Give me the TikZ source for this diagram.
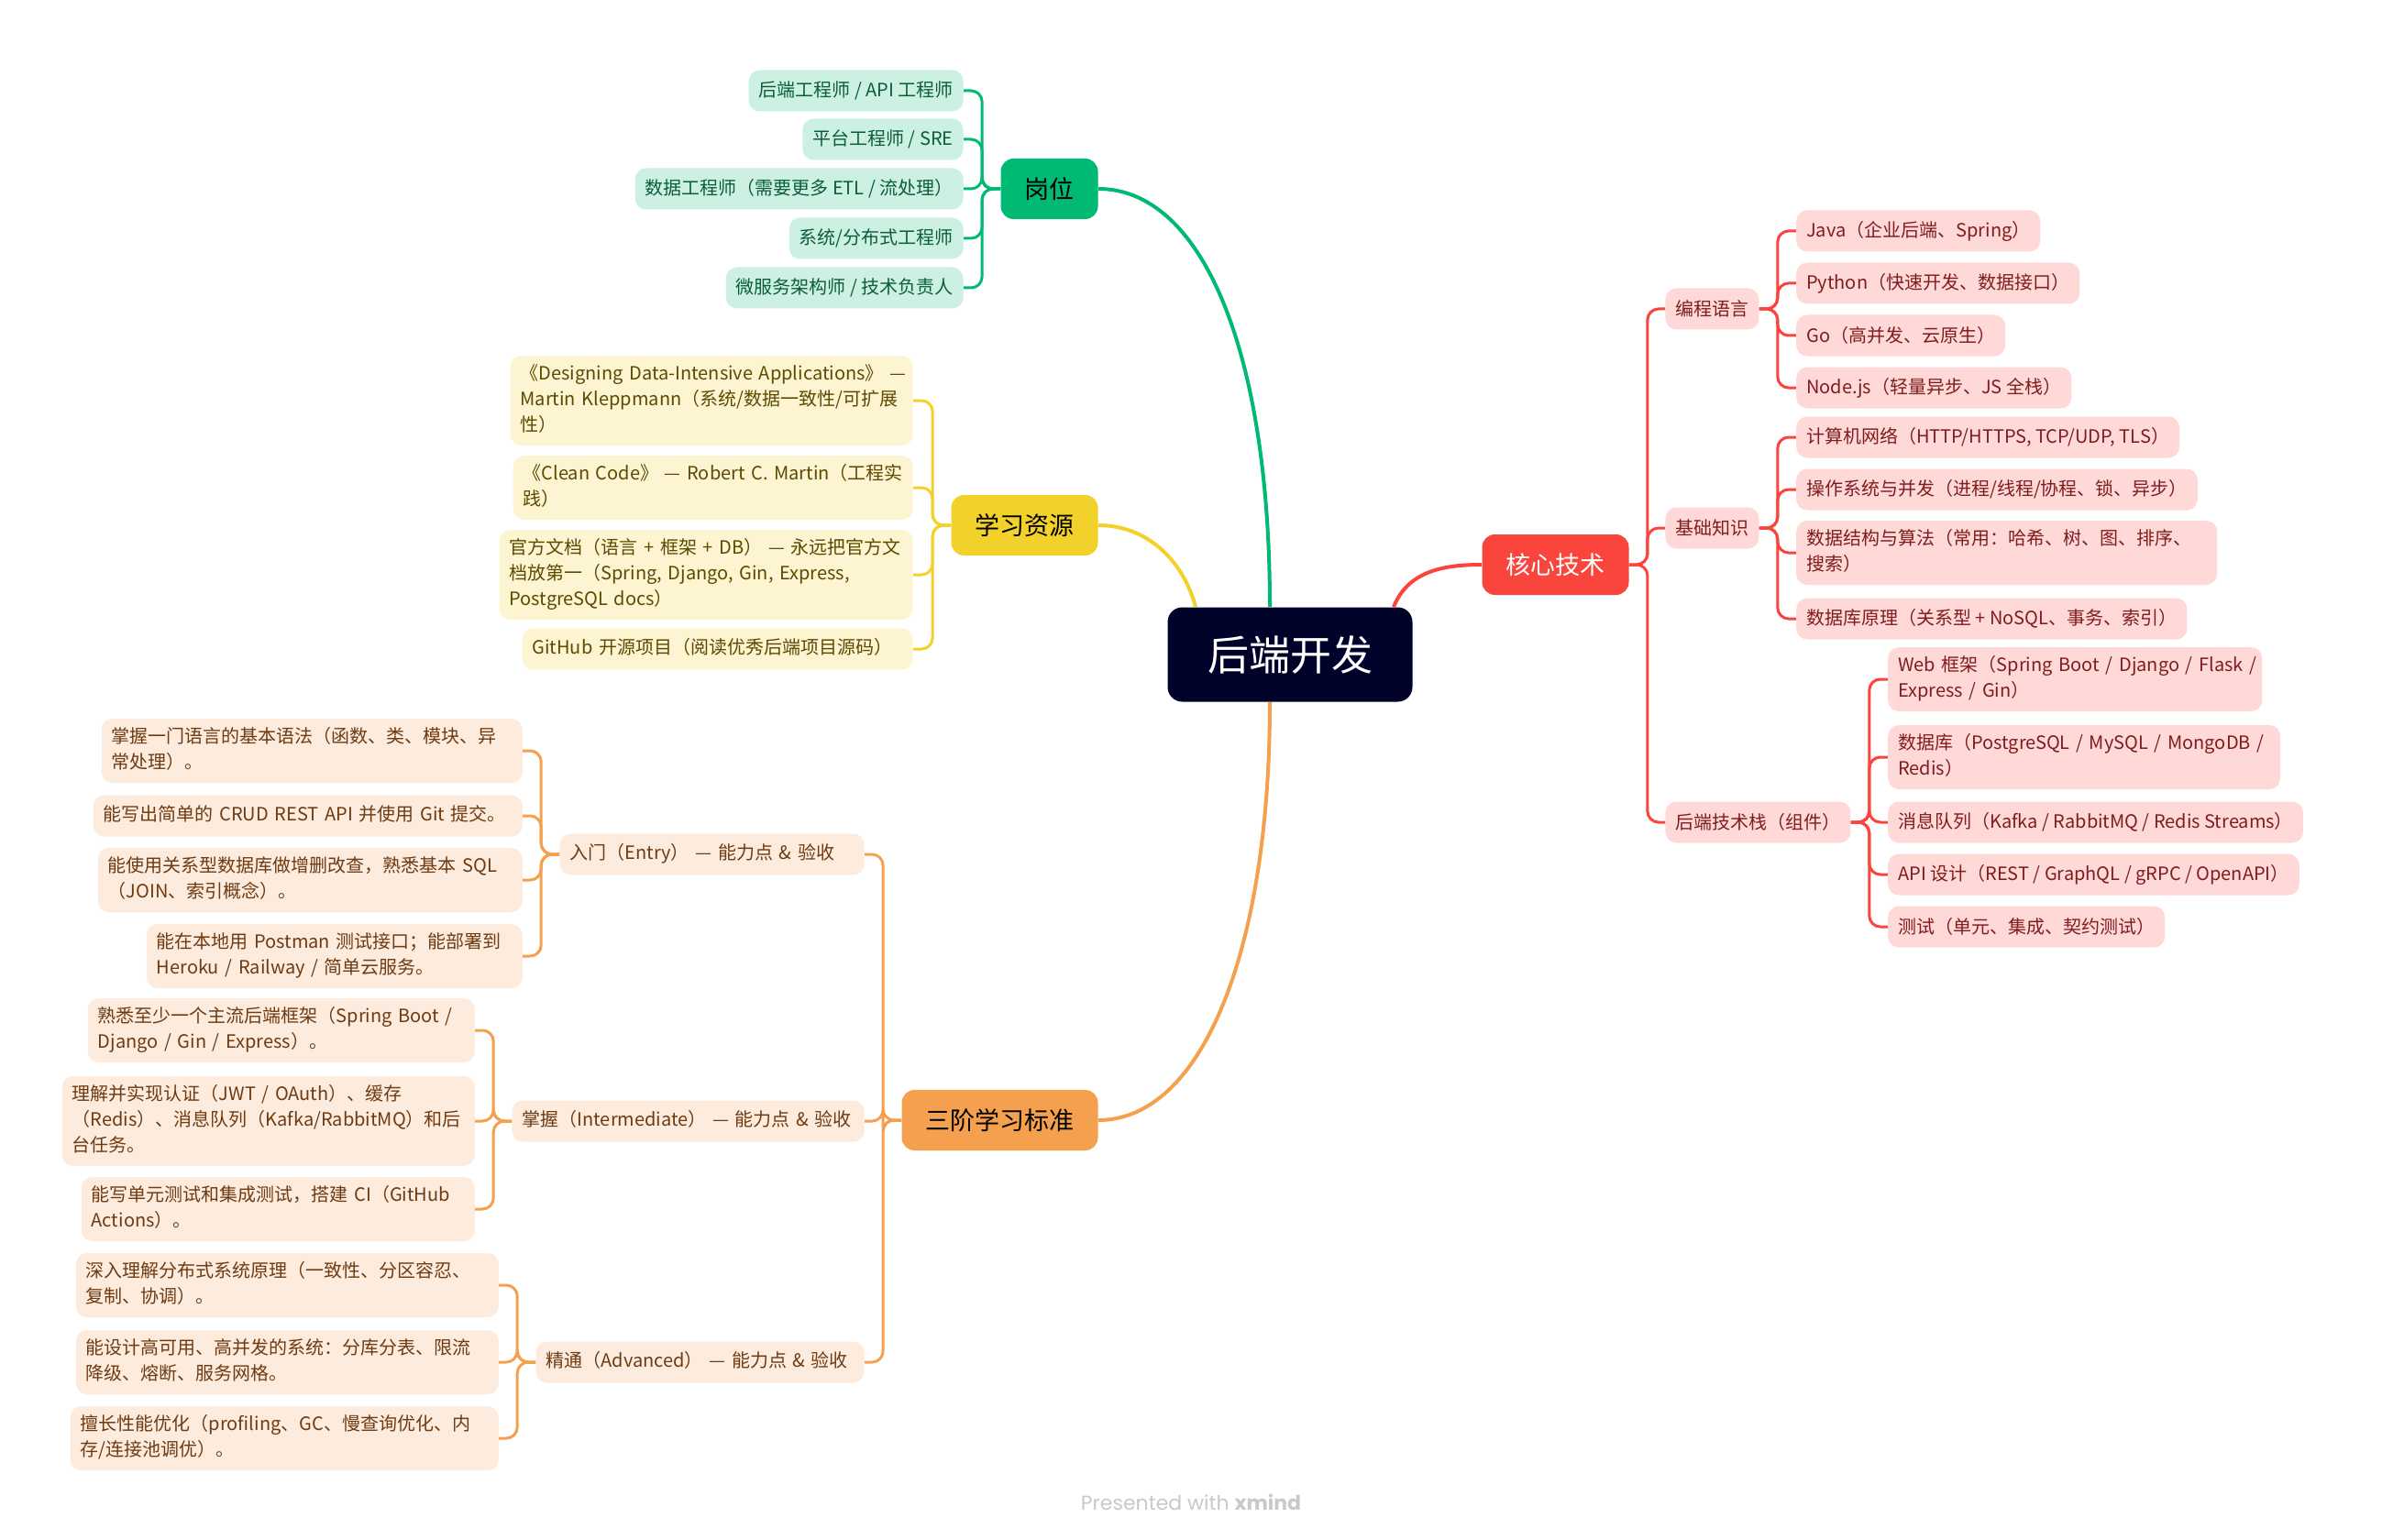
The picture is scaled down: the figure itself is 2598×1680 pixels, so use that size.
\documentclass[tikz,border=0pt]{standalone}
\usepackage{fontspec}
\setmainfont{Noto Sans CJK SC}
\newfontfamily\footfont{Poppins}
\usetikzlibrary{calc}
\definecolor{cnavy}{HTML}{000229}
\definecolor{gmain}{HTML}{00B973}
\definecolor{glight}{HTML}{CCF1E3}
\definecolor{gtext}{HTML}{0B5D3E}
\definecolor{ymain}{HTML}{F2D12A}
\definecolor{ylight}{HTML}{FDF5D2}
\definecolor{ytext}{HTML}{5C4A00}
\definecolor{rmain}{HTML}{FA453C}
\definecolor{rlight}{HTML}{FFD9D8}
\definecolor{rtext}{HTML}{7F1D1D}
\definecolor{omain}{HTML}{F5A04F}
\definecolor{olight}{HTML}{FDEBDD}
\definecolor{otext}{HTML}{6E3B12}
\definecolor{footgray}{HTML}{C9C9C9}
\newcommand\ml[1]{\noindent\begin{tabular}{@{}l@{}}#1\end{tabular}}
\tikzset{
  leaf/.style={rounded corners=6pt, inner xsep=5.5pt, inner ysep=3.5pt, minimum height=22.5pt, font=\fontsize{10}{14}\selectfont},
  gleaf/.style={leaf, fill=glight, text=gtext},
  yleaf/.style={leaf, fill=ylight, text=ytext},
  rleaf/.style={leaf, fill=rlight, text=rtext},
  oleaf/.style={leaf, fill=olight, text=otext},
  mainbox/.style={rounded corners=7pt, minimum height=33pt, inner xsep=13pt, font=\fontsize{13.5}{16}\selectfont},
  rootbox/.style={rounded corners=8pt, fill=cnavy, text=white, minimum width=133.5pt, minimum height=51.5pt, font=\fontsize{22.5}{26}\selectfont},
  brg/.style={draw=gmain, line width=1.5pt, rounded corners=6pt},
  bry/.style={draw=ymain, line width=1.5pt, rounded corners=6pt},
  brr/.style={draw=rmain, line width=1.5pt, rounded corners=6pt},
  bro/.style={draw=omain, line width=1.5pt, rounded corners=6pt},
  curve/.style={line width=2pt},
}
\begin{document}
\begin{tikzpicture}[x=0.5pt,y=-0.5pt]
\fill[white] (0,0) rectangle (2598,1680);
\path[use as bounding box] (0,0) rectangle (2598,1680);

% root and main branches
\node[rootbox] (root) at (1407,714) {后端开发};
\node[mainbox, fill=gmain, text=black] (gw) at (1144.5,206) {岗位};
\node[mainbox, fill=ymain, text=black] (xx) at (1117.5,573) {学习资源};
\node[mainbox, fill=rmain, text=white] (hx) at (1696.5,616) {核心技术};
\node[mainbox, fill=omain, text=black] (sj) at (1090.5,1222) {三阶学习标准};

\draw[curve, gmain] ($(root.north)+(-22,0)$) .. controls (1385,380) and (1310,206) .. (gw.east);
\draw[curve, ymain] ($(root.north)+(-103,0)$) .. controls (1290,610) and (1250,573) .. (xx.east);
\draw[curve, rmain] ($(root.north)+(113,0)$) .. controls (1535,625) and (1570,616) .. (hx.west);
\draw[curve, omain] ($(root.south)+(-22,0)$) .. controls (1385,1040) and (1310,1222) .. (sj.east);

% 岗位
\node[gleaf, anchor=east] (g1) at (1051,99) {后端工程师 / API 工程师};
\node[gleaf, anchor=east] (g2) at (1051,152) {平台工程师 / SRE};
\node[gleaf, anchor=east] (g3) at (1051,206) {数据工程师（需要更多 ETL / 流处理）};
\node[gleaf, anchor=east] (g4) at (1051,260) {系统/分布式工程师};
\node[gleaf, anchor=east] (g5) at (1051,314) {微服务架构师 / 技术负责人};
\foreach \c in {g1,g2,g3,g4,g5} \draw[brg] (gw.west) -- ++(-20,0) |- (\c.east);

% 学习资源
\node[yleaf, anchor=east, text width=208.5pt] (y1) at (996,437) {\ml{《Designing Data-Intensive Applications》 —\\Martin Kleppmann（系统/数据一致性/可扩展\\性）}};
\node[yleaf, anchor=east, text width=207pt] (y2) at (996,532) {\ml{《Clean Code》 — Robert C. Martin（工程实\\践）}};
\node[yleaf, anchor=east, text width=214.5pt] (y3) at (996,627) {\ml{官方文档（语言 + 框架 + DB） — 永远把官方文\\档放第一（Spring, Django, Gin, Express,\\PostgreSQL docs）}};
\node[yleaf, anchor=east, text width=202pt] (y4) at (996,708) {\ml{GitHub 开源项目（阅读优秀后端项目源码）}};
\foreach \c in {y1,y2,y3,y4} \draw[bry] (xx.west) -- ++(-20,0) |- (\c.east);

% 核心技术
\node[rleaf, anchor=west] (k1) at (1816,337) {编程语言};
\node[rleaf, anchor=west] (k2) at (1816,576) {基础知识};
\node[rleaf, anchor=west] (k3) at (1816,897) {后端技术栈（组件）};
\foreach \c in {k1,k2,k3} \draw[brr] (hx.east) -- ++(20,0) |- (\c.west);

\coordinate (k1x) at ($(k1.east)+(40,0)$);
\node[rleaf, anchor=west] (p1) at (k1x |- 0,252) {Java（企业后端、Spring）};
\node[rleaf, anchor=west] (p2) at (k1x |- 0,309) {Python（快速开发、数据接口）};
\node[rleaf, anchor=west] (p3) at (k1x |- 0,366) {Go（高并发、云原生）};
\node[rleaf, anchor=west] (p4) at (k1x |- 0,423) {Node.js（轻量异步、JS 全栈）};
\foreach \c in {p1,p2,p3,p4} \draw[brr] (k1.east) -- ++(20,0) |- (\c.west);

\coordinate (k2x) at ($(k2.east)+(40,0)$);
\node[rleaf, anchor=west] (b1) at (k2x |- 0,477) {计算机网络（HTTP/HTTPS, TCP/UDP, TLS）};
\node[rleaf, anchor=west] (b2) at (k2x |- 0,534) {操作系统与并发（进程/线程/协程、锁、异步）};
\node[rleaf, anchor=west, text width=218.5pt] (b3) at (k2x |- 0,603) {\ml{数据结构与算法（常用：哈希、树、图、排序、\\搜索）}};
\node[rleaf, anchor=west] (b4) at (k2x |- 0,675) {数据库原理（关系型 + NoSQL、事务、索引）};
\foreach \c in {b1,b2,b3,b4} \draw[brr] (k2.east) -- ++(20,0) |- (\c.west);

\coordinate (k3x) at ($(k3.east)+(40,0)$);
\node[rleaf, anchor=west, text width=193pt] (t1) at (k3x |- 0,741) {\ml{Web 框架（Spring Boot / Django / Flask /\\Express / Gin）}};
\node[rleaf, anchor=west, text width=203pt] (t2) at (k3x |- 0,826) {\ml{数据库（PostgreSQL / MySQL / MongoDB /\\Redis）}};
\node[rleaf, anchor=west] (t3) at (k3x |- 0,897) {消息队列（Kafka / RabbitMQ / Redis Streams）};
\node[rleaf, anchor=west] (t4) at (k3x |- 0,954) {API 设计（REST / GraphQL / gRPC / OpenAPI）};
\node[rleaf, anchor=west] (t5) at (k3x |- 0,1011) {测试（单元、集成、契约测试）};
\foreach \c in {t1,t2,t3,t4,t5} \draw[brr] (k3.east) -- ++(20,0) |- (\c.west);

% 三阶学习标准
\node[oleaf, anchor=east, text width=155pt] (le) at (943,932) {\ml{入门（Entry） — 能力点 \& 验收}};
\node[oleaf, anchor=east, text width=181pt] (lm) at (943,1223) {\ml{掌握（Intermediate） — 能力点 \& 验收}};
\node[oleaf, anchor=east, text width=168pt] (la) at (943,1486) {\ml{精通（Advanced） — 能力点 \& 验收}};
\foreach \c in {le,lm,la} \draw[bro] (sj.west) -- ++(-20,0) |- (\c.east);

\coordinate (lex) at ($(le.west)+(-40,0)$);
\node[oleaf, anchor=east, text width=218.5pt] (e1) at (lex |- 0,819) {\ml{掌握一门语言的基本语法（函数、类、模块、异\\常处理）。}};
\node[oleaf, anchor=east, text width=223pt] (e2) at (lex |- 0,890) {\ml{能写出简单的 CRUD REST API 并使用 Git 提交。}};
\node[oleaf, anchor=east, text width=220.5pt] (e3) at (lex |- 0,960) {\ml{能使用关系型数据库做增删改查，熟悉基本 SQL\\（JOIN、索引概念）。}};
\node[oleaf, anchor=east, text width=194pt] (e4) at (lex |- 0,1043) {\ml{能在本地用 Postman 测试接口；能部署到\\Heroku / Railway / 简单云服务。}};
\foreach \c in {e1,e2,e3,e4} \draw[bro] (le.west) -- ++(-20,0) |- (\c.east);

\coordinate (lmx) at ($(lm.west)+(-40,0)$);
\node[oleaf, anchor=east, text width=200pt] (m1) at (lmx |- 0,1124) {\ml{熟悉至少一个主流后端框架（Spring Boot /\\Django / Gin / Express）。}};
\node[oleaf, anchor=east, text width=214pt] (m2) at (lmx |- 0,1223) {\ml{理解并实现认证（JWT / OAuth）、缓存\\（Redis）、消息队列（Kafka/RabbitMQ）和后\\台任务。}};
\node[oleaf, anchor=east, text width=203.5pt] (m3) at (lmx |- 0,1319) {\ml{能写单元测试和集成测试，搭建 CI（GitHub\\Actions）。}};
\foreach \c in {m1,m2,m3} \draw[bro] (lm.west) -- ++(-20,0) |- (\c.east);

\coordinate (lax) at ($(la.west)+(-40,0)$);
\node[oleaf, anchor=east, text width=219.5pt] (a1) at (lax |- 0,1402) {\ml{深入理解分布式系统原理（一致性、分区容忍、\\复制、协调）。}};
\node[oleaf, anchor=east, text width=219.5pt] (a2) at (lax |- 0,1486) {\ml{能设计高可用、高并发的系统：分库分表、限流\\降级、熔断、服务网格。}};
\node[oleaf, anchor=east, text width=222.5pt] (a3) at (lax |- 0,1569) {\ml{擅长性能优化（profiling、GC、慢查询优化、内\\存/连接池调优）。}};
\foreach \c in {a1,a2,a3} \draw[bro] (la.west) -- ++(-20,0) |- (\c.east);

% footer
\node[font=\footfont\fontsize{11}{13}\selectfont, text=footgray] (foot) at (1299,1639) {Presented with \textbf{xmind}};
\end{tikzpicture}
\end{document}
